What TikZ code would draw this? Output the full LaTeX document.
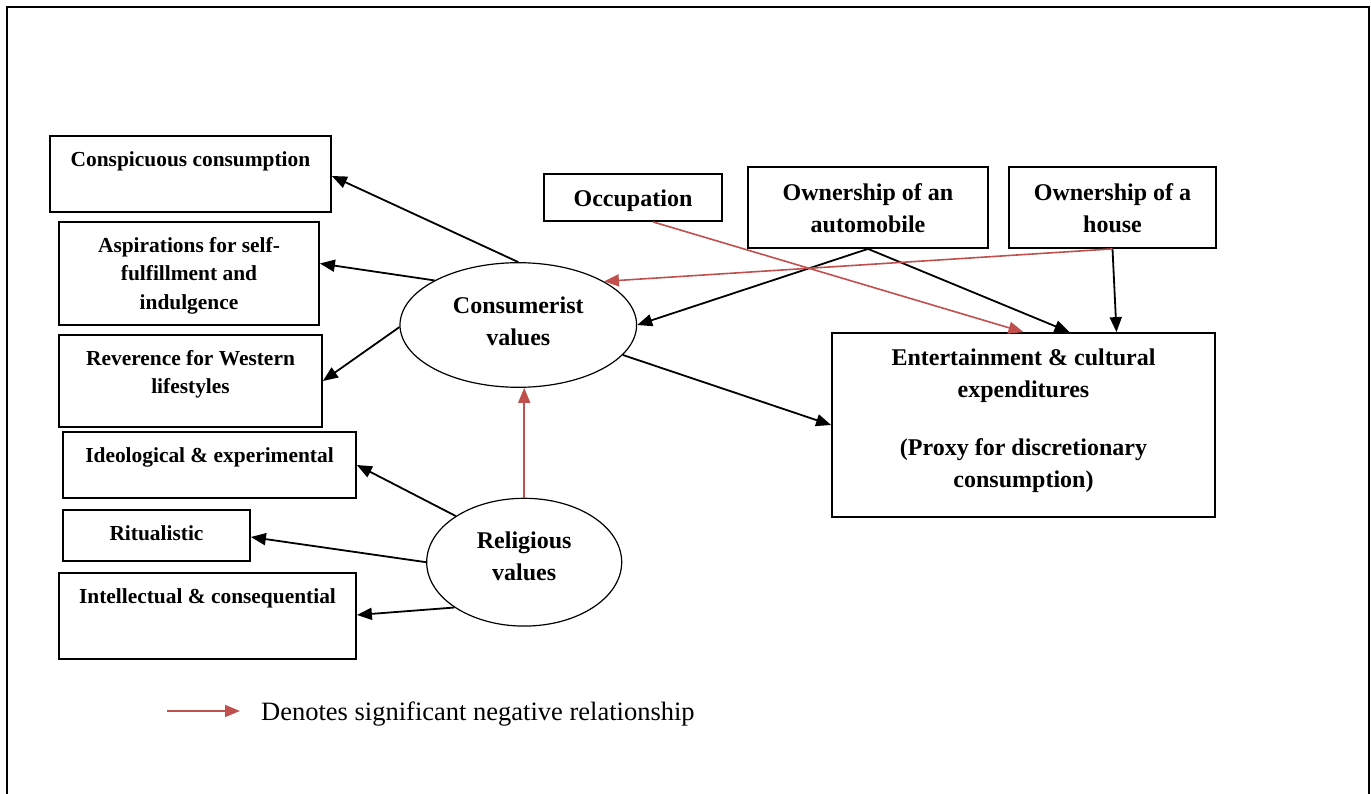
\documentclass[tikz,border=0pt]{standalone}
\usepackage{fontspec}
\setmainfont{Liberation Serif}
\usetikzlibrary{arrows.meta,shapes.geometric,calc}
\definecolor{negred}{HTML}{C0504D}
\newcommand{\mybox}[4]{\parbox[c][#2pt][t]{#1pt}{\centering\rule{0pt}{#3pt}#4\par}}
\begin{document}
\begin{tikzpicture}[x=1pt,y=1pt,
  lbox/.style={draw, line width=1.8pt, inner sep=0pt, font=\fontsize{21.4}{28.4}\selectfont\bfseries},
  rbox/.style={draw, line width=1.8pt, inner sep=0pt, font=\fontsize{24}{31.8}\selectfont\bfseries},
  ell/.style={draw, ellipse, line width=1.2pt, inner sep=0pt, align=center, font=\fontsize{24}{31.8}\selectfont\bfseries},
  conn/.style={-{Triangle[length=15pt,width=12pt]}, line width=1.8pt},
  neg/.style={conn, draw=negred, line width=1.6pt},
  legendtext/.style={inner sep=0pt, anchor=base west, font=\fontsize{26.5}{30}\selectfont}]
\useasboundingbox (0,0) rectangle (1371,-794);
% outer frame
\draw[line width=2pt] (7,-800) -- (7,-7.3) -- (1369.3,-7.3) -- (1369.3,-800);

% left boxes
\node[lbox] (consp) at (190.5,-174) {\mybox{281}{76}{30.5}{Conspicuous consumption}};
\node[lbox] (asp) at (189,-273.5) {\mybox{260}{103}{30.5}{Aspirations for self-\\fulfillment and\\indulgence}};
\node[lbox] (rev) at (190.5,-381) {\mybox{263}{92}{30.5}{Reverence for Western\\lifestyles}};
\node[lbox] (ideo) at (209.5,-465) {\mybox{293}{66}{30.5}{Ideological \& experimental}};
\node[lbox] (rit) at (156.5,-535.5) {\mybox{187}{51}{30.5}{Ritualistic}};
\node[lbox] (intel) at (207.5,-616) {\mybox{297}{86}{30}{Intellectual \& consequential}};

% right boxes
\node[rbox] (occ) at (633,-197.5) {\mybox{178}{47}{33}{Occupation}};
\node[rbox] (auto) at (868,-207.5) {\mybox{240}{81}{33.3}{Ownership of an\\automobile}};
\node[rbox] (house) at (1112.5,-207.5) {\mybox{207}{81}{33.3}{Ownership of a\\house}};
\node[rbox] (ent) at (1023.5,-425) {\mybox{383}{184}{32.3}{Entertainment \& cultural\\expenditures\\[26.5pt](Proxy for discretionary\\consumption)}};

% ellipses
\node[ell, minimum width=236.6pt, minimum height=124.6pt] (cons) at (518.3,-325)
  {Consumerist\\values\rule[-8pt]{0pt}{8pt}};
\node[ell, minimum width=195pt, minimum height=127.8pt] (rel) at (524.2,-562.2)
  {Religious\\values\rule[-12pt]{0pt}{12pt}};

% black connectors
\draw[conn] (cons.north) -- ([yshift=-2pt]consp.east);
\draw[conn] (cons.152.5) -- ([yshift=10pt]asp.east);
\draw[conn] (cons.181) -- (rev.east);
\draw[conn] (auto.south) -- (cons.east);
\draw[conn] (auto.south) -- ([xshift=46pt]ent.north);
\draw[conn] (house.south) -- ([xshift=93pt]ent.north);
\draw[conn] (cons.-16) -- (ent.west);
\draw[conn] (rel.146.5) -- (ideo.east);
\draw[conn] (rel.180) -- ([yshift=-1.5pt]rit.east);
\draw[conn] (rel.213.5) -- ([yshift=1pt]intel.east);

% red (negative) connectors
\draw[neg] ([xshift=20pt]occ.south) -- (ent.north);
\draw[neg] (house.south) -- (cons.27);
\draw[neg] (rel.north) -- (rel.north |- cons.south);

% legend
\coordinate (legA) at (167,-711);
\coordinate (legB) at (240,-711);
\draw[neg] (legA) -- (legB);
\node[legendtext] (legtext) at (261,-720) {Denotes significant negative relationship};
\end{tikzpicture}
\end{document}
